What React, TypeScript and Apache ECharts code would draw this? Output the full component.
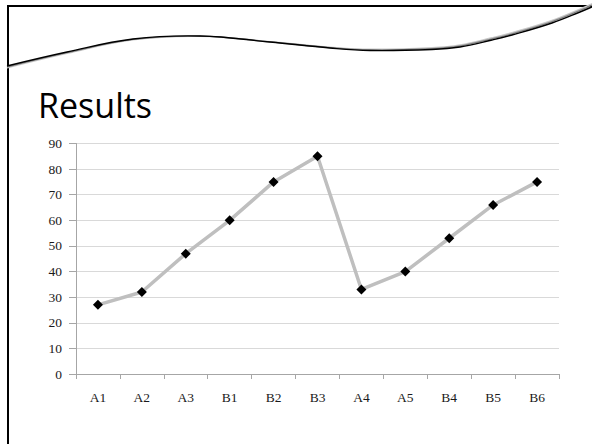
import React, { useEffect, useRef } from "react";
import * as echarts from "echarts";

const categories = ["A1", "A2", "A3", "B1", "B2", "B3", "A4", "A5", "B4", "B5", "B6"];
const values = [27, 32, 47, 60, 75, 85, 33, 40, 53, 66, 75];
const yMin = 0;
const yMax = 90;
const yInterval = 10;
const title = "Results";

const wave: number[][] = [
  [7, 66], [67, 52], [133, 39], [200, 36], [270, 42], [330, 48], [370, 50.5],
  [432, 49.5], [460, 47], [492, 40], [512, 35], [552, 23], [580, 12], [594, 6],
];

function shifted(pts: number[][], dyLeft: number, dyRight: number) {
  return pts.map(([x, y]) => {
    const t = (x - 7) / (594 - 7);
    return [x, y + dyLeft * (1 - t) + dyRight * t];
  });
}

export default function App() {
  const ref = useRef<HTMLDivElement>(null);
  useEffect(() => {
    if (!ref.current) return;
    const chart = echarts.init(ref.current, null, { renderer: "svg" });
    const serif = "'Liberation Serif', 'DejaVu Serif', serif";
    chart.setOption({
      animation: false,
      backgroundColor: "#ffffff",
      grid: { left: 76, right: 33, top: 143.5, bottom: 70, containLabel: false },
      xAxis: {
        type: "category",
        data: categories,
        boundaryGap: true,
        axisLine: { show: true, lineStyle: { color: "#a6a6a6", width: 1 } },
        axisTick: { show: true, length: 5, alignWithLabel: false, lineStyle: { color: "#a6a6a6" } },
        axisLabel: { color: "#1a1a1a", fontFamily: serif, fontSize: 13.5, margin: 16 },
        splitLine: { show: false },
      },
      yAxis: {
        type: "value",
        min: yMin,
        max: yMax,
        interval: yInterval,
        axisLine: { show: true, lineStyle: { color: "#a6a6a6", width: 1 } },
        axisTick: { show: true, length: 7, inside: false, lineStyle: { color: "#a6a6a6" } },
        axisLabel: { color: "#1a1a1a", fontFamily: serif, fontSize: 13.5, margin: 14 },
        splitLine: { show: true, lineStyle: { color: "#d9d9d9", width: 1 } },
      },
      series: [
        {
          type: "line",
          data: values,
          symbol: "diamond",
          symbolSize: 10,
          itemStyle: { color: "#000000" },
          lineStyle: { color: "#bfbfbf", width: 3.5 },
          z: 3,
        },
      ],
      graphic: [
        { type: "line", shape: { x1: 7, y1: 6, x2: 592, y2: 6 }, style: { stroke: "#000", lineWidth: 2 } },
        { type: "line", shape: { x1: 8, y1: 5, x2: 8, y2: 444 }, style: { stroke: "#000", lineWidth: 2 } },
        { type: "polyline", shape: { points: shifted(wave, 1.8, -3), smooth: 0.4 }, style: { stroke: "#c8c8c8", lineWidth: 1.5, fill: null } },
        { type: "polyline", shape: { points: shifted(wave, 1, -1.6), smooth: 0.4 }, style: { stroke: "#808080", lineWidth: 1.3, fill: null } },
        { type: "polyline", shape: { points: wave, smooth: 0.4 }, style: { stroke: "#000000", lineWidth: 1.4, fill: null } },
        {
          type: "text",
          x: 38,
          y: 122,
          style: {
            text: title,
            font: "34px 'Open Sans', sans-serif",
            fill: "#000",
            textVerticalAlign: "bottom",
            verticalAlign: "bottom",
          },
        },
      ],
    });
    return () => chart.dispose();
  }, []);
  return <div ref={ref} style={{ width: 592, height: 444, position: "absolute", left: 0, top: 0 }} />;
}
